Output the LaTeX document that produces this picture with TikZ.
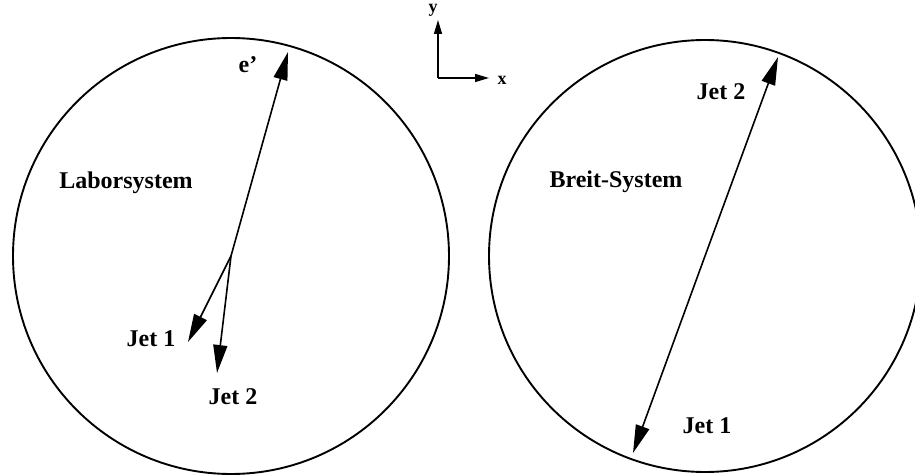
\documentclass[tikz,border=0pt]{standalone}
\usepackage{fontspec}
\setmainfont{Liberation Serif}
\usepackage{tikz}
\usetikzlibrary{positioning,calc,arrows.meta}
\usepackage{xcolor}
\definecolor{ink}{HTML}{000000}
\newcommand{\Rad}{218}
\newcommand{\Rrad}{216}
\tikzset{
  lbl/.style={font=\fontsize{24}{28}\selectfont\bfseries, text=ink, inner sep=0pt},
  axlbl/.style={font=\fontsize{18}{21}\selectfont\bfseries, text=ink, inner sep=0pt},
  vec/.style={ink, line width=1.6pt, -{Triangle[length=28pt,width=14pt]}},
  axvec/.style={ink, line width=1.4pt, -{Triangle[length=14pt,width=8pt]}}
}

\begin{document}
\begin{tikzpicture}[x=1pt,y=-1pt, line width=1.9pt]
\useasboundingbox (0,0) rectangle (915,476);
% ---- LEFT: laboratory frame
\coordinate (labc) at (231,256);
\draw[ink] (labc) circle (\Rad);
\coordinate (eout) at (288,52);
\coordinate (jlone) at (188,342);
\coordinate (jltwo) at (217,373);
\draw[vec] (labc) -- (eout);
\draw[vec] (labc) -- (jlone);
\draw[vec] (labc) -- (jltwo);
\node[lbl] (labname) at (126,183) {Laborsystem};
\node[lbl] (elab) at (248,65) {e’};
\node[lbl] (jlonelab) at (151,339) {Jet 1};
\node[lbl] (jltwolab) at (233,397) {Jet 2};
% ---- AXES: small x/y frame between the circles
\coordinate (axo) at (438,78);
\coordinate (axy) at (438,20);
\coordinate (axx) at (489,78);
\draw[axvec] (axo) -- (axy);
\draw[axvec] (axo) -- (axx);
\node[axlbl, anchor=base] (ylab) at (433,13) {y};
\node[axlbl] (xlab) at (502,80) {x};
% ---- RIGHT: Breit frame, back-to-back jets
\coordinate (brc) at (705,256);
\draw[ink] (brc) circle (\Rrad);
\coordinate (jbtwo) at (778,57);
\coordinate (jbone) at (633,453);
\draw[vec] (brc) -- (jbtwo);
\draw[vec] (brc) -- (jbone);
\node[lbl] (brname) at (616,182) {Breit-System};
\node[lbl] (jbtwolab) at (721,92) {Jet 2};
\node[lbl] (jbonelab) at (707,426) {Jet 1};
\end{tikzpicture}
\end{document}
